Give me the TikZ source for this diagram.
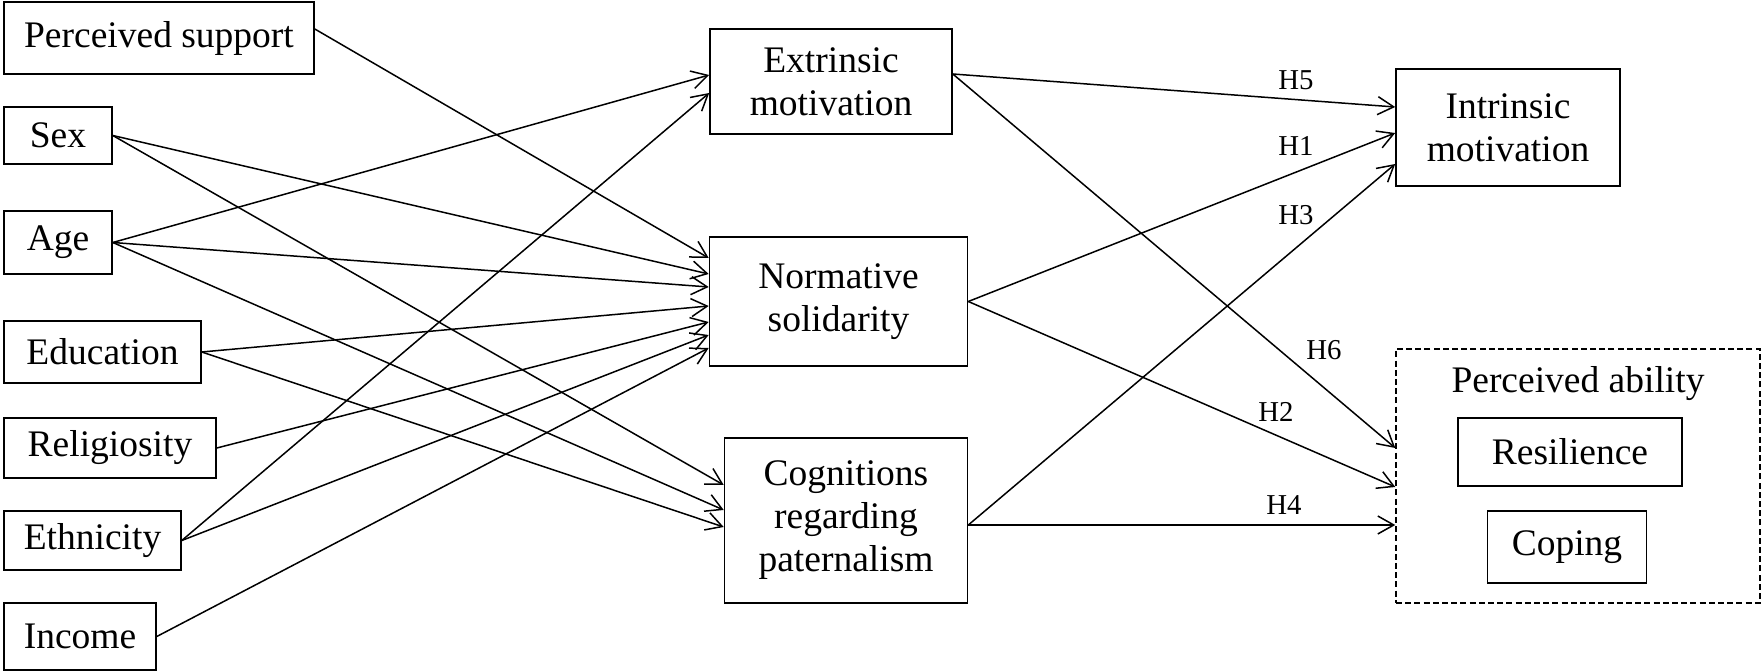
\documentclass[tikz,border=0pt]{standalone}
\usepackage{fontspec}
\setmainfont{Liberation Serif}
\usetikzlibrary{arrows.meta}

\tikzset{
  varbox/.style={draw, line width=0.8pt, inner sep=0pt, align=center,
    font=\fontsize{18.75}{21.5}\selectfont},
  hyp/.style={inner sep=0pt, font=\fontsize{14.4}{16}\selectfont},
  link/.style={-{Straight Barb[length=8pt,width=9pt]}, line width=0.75pt},
}

\begin{document}
\begin{tikzpicture}[x=0.5pt,y=-0.5pt]
\useasboundingbox (0,0) rectangle (1762,672);

% Predictors
\node (ps)  [varbox, minimum width=155pt, minimum height=36pt]   at (159,38)    {Perceived support};
\node (sex) [varbox, minimum width=54pt, minimum height=28.5pt]  at (58,135.5)  {Sex};
\node (age) [varbox, minimum width=54pt, minimum height=31.5pt]  at (58,242.5)  {Age};
\node (edu) [varbox, minimum width=98.5pt, minimum height=31pt]  at (102.5,352) {Education};
\node (rel) [varbox, minimum width=106pt, minimum height=30pt]   at (110,448)   {Religiosity};
\node (eth) [varbox, minimum width=88.5pt, minimum height=29.5pt] at (92.5,540.5) {Ethnicity};
\node (inc) [varbox, minimum width=76pt, minimum height=33.5pt]  at (80,636.5)  {Income};

% Mediators
\node (ext)  [varbox, minimum width=121pt, minimum height=52.5pt]  at (831,81.5)   {Extrinsic\\motivation};
\node (norm) [varbox, minimum width=129pt, minimum height=64.5pt]  at (838.5,301.5) {Normative\\solidarity};
\node (cog)  [varbox, minimum width=121.5pt, minimum height=82.5pt] at (846,520.5)  {Cognitions\\regarding\\paternalism};
\coordinate (cogout) at ([shift={(0,4.5)}]cog.east);

% Outcomes
\node (intr) [varbox, minimum width=112pt, minimum height=58.5pt] at (1508,127.5) {Intrinsic\\motivation};
\node (abil) [draw, line width=0.7pt, dash pattern=on 3pt off 1.6pt, minimum width=182pt, minimum height=127pt] at (1578,476) {};
\node (abtitle) [anchor=base, inner sep=0pt, font=\fontsize{18.75}{21.5}\selectfont] at (1578,393) {Perceived ability};
\node (res) [varbox, minimum width=112pt, minimum height=34pt] at (1570,452) {Resilience};
\node (cop) [varbox, minimum width=79.5pt, minimum height=36pt] at (1567,547) {Coping};

% Paths from predictors
\draw [link] ([shift={(0,-9)}]ps.east) -- ([shift={(0,-43.5)}]norm.west);
\draw [link] (sex.east) -- ([shift={(0,-27.5)}]norm.west);
\draw [link] (sex.east) -- ([shift={(0,-35.5)}]cog.west);
\draw [link] (age.east) -- ([shift={(0,-6.5)}]ext.west);
\draw [link] (age.east) -- ([shift={(0,-14.5)}]norm.west);
\draw [link] (age.east) -- ([shift={(0,-10.5)}]cog.west);
\draw [link] (edu.east) -- ([shift={(0,4.5)}]norm.west);
\draw [link] (edu.east) -- ([shift={(0,6.5)}]cog.west);
\draw [link] (rel.east) -- ([shift={(0,20.5)}]norm.west);
\draw [link] (eth.east) -- ([shift={(0,11.5)}]ext.west);
\draw [link] (eth.east) -- ([shift={(0,33.5)}]norm.west);
\draw [link] (inc.east) -- ([shift={(0,46.5)}]norm.west);

% Hypothesised paths
\draw [link] ([shift={(0,-7.5)}]ext.east) -- ([shift={(0,-20.5)}]intr.west);
\draw [link] ([shift={(0,-7.5)}]ext.east) -- ([shift={(0,-28)}]abil.west);
\draw [link] (norm.east) -- ([shift={(0,5.5)}]intr.west);
\draw [link] (norm.east) -- ([shift={(0,11)}]abil.west);
\draw [link] (cogout) -- ([shift={(0,36.5)}]intr.west);
\draw [link] (cogout) -- (cogout -| abil.west);

% Text Node
\node (h5) [hyp] at (1296,80)  {H5};
\node (h1) [hyp] at (1296,146) {H1};
\node (h3) [hyp] at (1296,215) {H3};
\node (h6) [hyp] at (1324,350) {H6};
\node (h2) [hyp] at (1276,412) {H2};
\node (h4) [hyp] at (1284,505) {H4};

\end{tikzpicture}
\end{document}
